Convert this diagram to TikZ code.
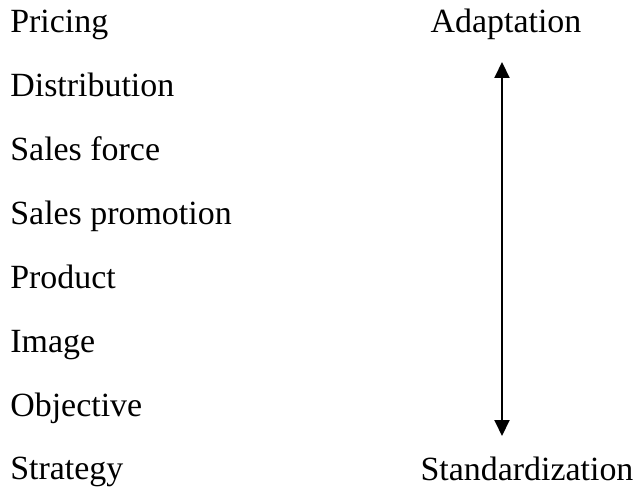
\documentclass[tikz,border=0pt]{standalone}
\usepackage{fontspec}
\setmainfont{Liberation Serif}
\usetikzlibrary{arrows.meta}

\begin{document}
\begin{tikzpicture}[x=0.02cm,y=-0.02cm,node distance=1.2772cm,>={Triangle[width=0.3cm,length=0.32cm]}]
  \tikzstyle{item}=[inner sep=0pt,text width=5cm,align=flush left,
                    text height=0.45cm,text depth=0.12cm,
                    font=\fontsize{19.3}{23}\selectfont]
  \tikzstyle{pole}=[inner sep=0pt,font=\fontsize{19.3}{23}\selectfont]
  \useasboundingbox (0,0) rectangle (638,492);
  % marketing mix, one element per row
  \node [item,anchor=base west] (pricing) at (10,33) {Pricing};
  \node [item] (distribution) [below of=pricing]      {Distribution};
  \node [item] (salesforce)   [below of=distribution] {Sales force};
  \node [item] (promotion)    [below of=salesforce]   {Sales promotion};
  \node [item] (product)      [below of=promotion]    {Product};
  \node [item] (image)        [below of=product]      {Image};
  \node [item] (objective)    [below of=image]        {Objective};
  \node [item] (strategy)     [below of=objective]    {Strategy};
  % the two ends of the scale
  \node [pole,anchor=base] (adapt)    at (506,33)  {Adaptation};
  \node [pole,anchor=base] (standard) at (527,480) {Standardization};
  \coordinate (up)   at (502,62);
  \coordinate (down) at (502,436);
  \draw [<->,line width=0.04cm] (up) -- (down);
\end{tikzpicture}
\end{document}
